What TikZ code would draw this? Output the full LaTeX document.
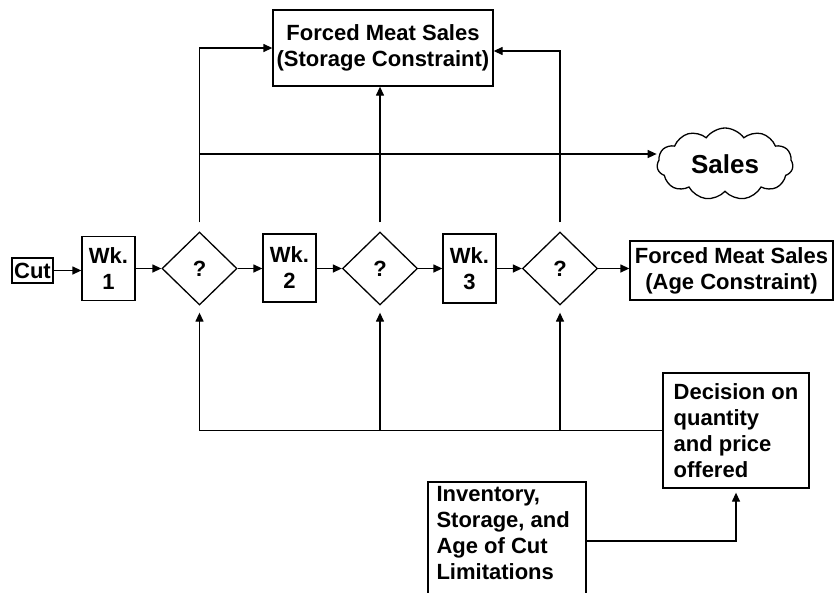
\documentclass[tikz,border=0pt]{standalone}
\usepackage{fontspec}
\setmainfont{Liberation Sans}
\usetikzlibrary{shapes.geometric,shapes.symbols,arrows.meta}
\tikzset{
  ln/.style={line width=1.3pt},
  arr/.style={ln,-{Triangle[length=9pt,width=8pt]}},
  boxst/.style={draw,ln,rectangle,inner sep=0pt},
  dia/.style={draw,ln,diamond,inner sep=0pt,minimum width=75pt,minimum height=73pt},
  txt/.style={font=\bfseries\fontsize{22}{26}\selectfont}
}
\begin{document}
\begin{tikzpicture}[x=1pt,y=-1pt,txt]
\useasboundingbox[fill=white] (0,0) rectangle (835,592);
% main row
\node (cut) [boxst,minimum width=41pt,minimum height=25pt] at (32.5,270.5) {Cut};
\node (wk1) [boxst,minimum width=53pt,minimum height=64pt,align=center] at (108.5,268.5) {Wk.\\1};
\node (d1) [dia] at (199.5,268.5) {?};
\node (wk2) [boxst,minimum width=53pt,minimum height=68pt,align=center] at (289.5,268) {Wk.\\2};
\node (d2) [dia] at (380,268.5) {?};
\node (wk3) [boxst,minimum width=53pt,minimum height=69pt,align=center] at (469.5,268.5) {Wk.\\3};
\node (d3) [dia] at (560,268.5) {?};
\node (age) [boxst,minimum width=203pt,minimum height=59pt,align=center] at (731.5,270.5) {Forced Meat Sales\\(Age Constraint)};
% top
\node (stor) [boxst,minimum width=220pt,minimum height=76pt,align=center] at (383,48) {Forced Meat Sales\\(Storage Constraint)};
\node (sales) [draw,ln,cloud,cloud puffs=11,cloud puff arc=110,aspect=2.1,minimum width=136pt,minimum height=72pt,inner sep=0pt,font=\bfseries\fontsize{26}{30}\selectfont] at (725,164) {Sales};
% bottom
\node (dec) [boxst,minimum width=146pt,minimum height=115pt,align=left] at (736,430.5) {Decision on\\quantity\\and price\\offered};
\node (inv) [boxst,minimum width=158pt,minimum height=118pt] at (507,541) {};
\node (invt) [anchor=north west,align=left,inner sep=0pt] at ([xshift=9pt,yshift=-5pt]inv.north west) {Inventory,\\Storage, and\\Age of Cut\\Limitations};
% row arrows
\draw[arr] (cut.east) -- (wk1.west |- cut.east);
\draw[arr] (wk1.east |- d1.west) -- (d1.west);
\draw[arr] (d1.east) -- (wk2.west |- d1.east);
\draw[arr] (wk2.east |- d2.west) -- (d2.west);
\draw[arr] (d2.east) -- (wk3.west |- d2.east);
\draw[arr] (wk3.east |- d3.west) -- (d3.west);
\draw[arr] (d3.east) -- (age.west |- d3.east);
% up to storage
\draw[arr,shorten <=9pt] (d1.north) |- (stor.west);
\draw[arr,shorten <=9pt] (d2.north) -- (d2.north |- stor.south);
\draw[arr,shorten <=9pt] (d3.north) |- ([yshift=-3pt]stor.east);
% sales line
\coordinate (s1) at (d1.north |- 0,154);
\draw[arr] (s1) -- (sales.west |- s1);
% feedback
\coordinate (f1) at (d1.south |- dec.west);
\coordinate (f2) at (d2.south |- dec.west);
\coordinate (f3) at (d3.south |- dec.west);
\draw[ln] (dec.west) -- (f1);
\draw[arr,shorten >=7pt] (f1) -- (d1.south);
\draw[arr,shorten >=7pt] (f2) -- (d2.south);
\draw[arr,shorten >=7pt] (f3) -- (d3.south);
% inventory to decision
\draw[arr,shorten >=4pt] (inv.east) -| (dec.south);
\end{tikzpicture}
\end{document}
